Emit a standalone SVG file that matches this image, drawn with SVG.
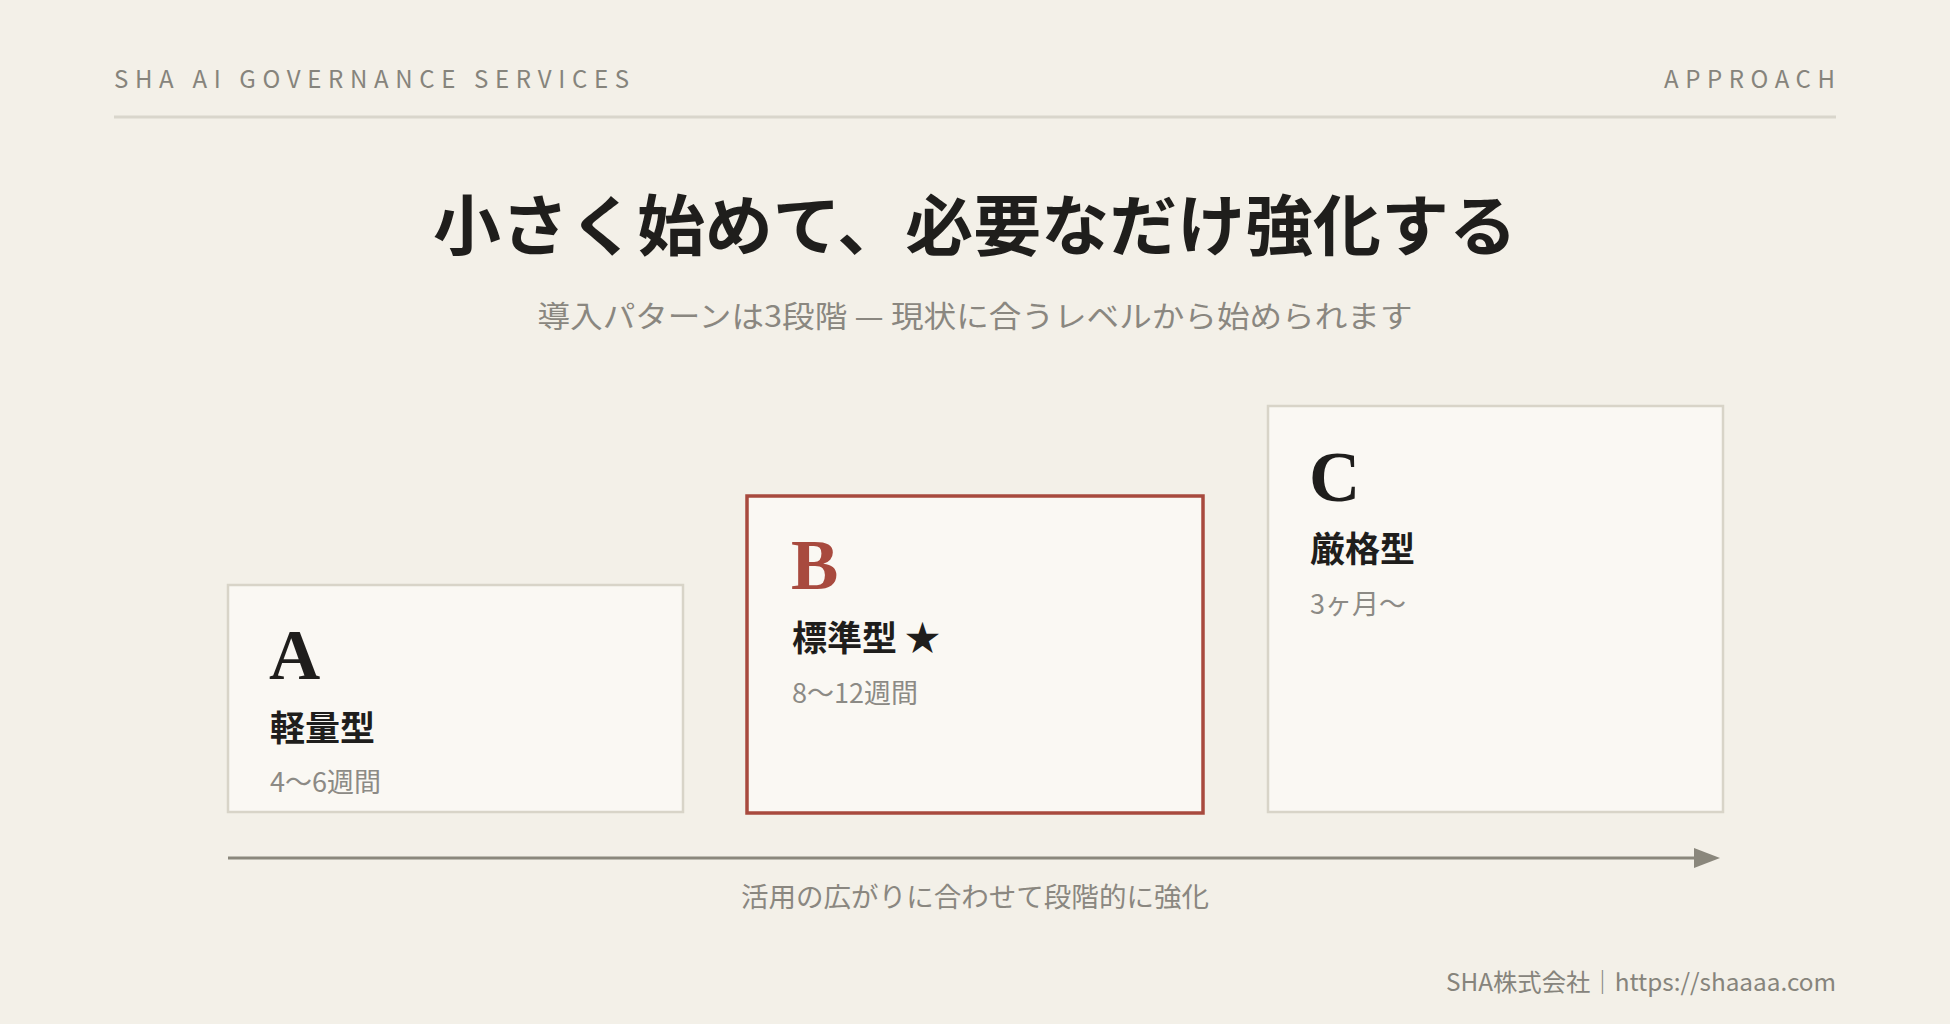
<svg xmlns="http://www.w3.org/2000/svg" width="1950" height="1024" viewBox="0 0 1950 1024">
  <defs>
    <style>
      .hdr { font-family: "Noto Sans CJK JP", "Noto Sans", sans-serif; font-size: 24px; fill: #86847c; }
      .title { font-family: "Noto Sans CJK JP", sans-serif; font-weight: 700; font-size: 66px; fill: #1f1e1c; }
      .sub { font-family: "Noto Sans CJK JP", sans-serif; font-size: 30px; fill: #8a8780; }
      .box { fill: #faf8f3; stroke: #d8d4c8; stroke-width: 2.5; }
      .boxhl { fill: #faf8f3; stroke: #a84a3e; stroke-width: 3.5; }
      .letter { font-family: "Liberation Serif", serif; font-weight: 700; font-size: 71px; fill: #1f1e1c; }
      .label { font-family: "Noto Sans CJK JP", sans-serif; font-weight: 700; font-size: 35px; fill: #1f1e1c; }
      .dur { font-family: "Noto Sans CJK JP", sans-serif; font-size: 27px; fill: #8c8a85; }
      .cap { font-family: "Noto Sans CJK JP", sans-serif; font-size: 27px; fill: #8a8780; }
      .foot { font-family: "Noto Sans CJK JP", "Noto Sans", sans-serif; font-size: 24px; fill: #86847c; }
    </style>
  </defs>
  <rect width="1950" height="1024" fill="#f3f0e8"/>

  <g id="header">
    <text class="hdr" x="114" y="88" textLength="515" lengthAdjust="spacing">SHA AI GOVERNANCE SERVICES</text>
    <text class="hdr" x="1664" y="88" textLength="171" lengthAdjust="spacing">APPROACH</text>
    <line x1="114" y1="117" x2="1836" y2="117" stroke="#d9d6cc" stroke-width="3"/>
  </g>

  <g id="title">
    <text class="title" x="975" y="250" text-anchor="middle" textLength="1084" lengthAdjust="spacingAndGlyphs">小さく始めて、必要なだけ強化する</text>
    <text class="sub" x="975" y="327" text-anchor="middle" textLength="875" lengthAdjust="spacingAndGlyphs">導入パターンは3段階 — 現状に合うレベルから始められます</text>
  </g>

  <g id="node-a">
    <rect class="box" x="228" y="585" width="455" height="227"/>
    <text class="letter" x="269" y="679">A</text>
    <text class="label" x="270" y="741">軽量型</text>
    <text class="dur" x="270" y="792">4〜6週間</text>
  </g>

  <g id="node-b">
    <rect class="boxhl" x="747" y="496" width="456" height="317"/>
    <text class="letter" x="791" y="589" style="fill:#a84a3e">B</text>
    <text class="label" x="792" y="651">標準型 ★</text>
    <text class="dur" x="792" y="703">8〜12週間</text>
  </g>

  <g id="node-c">
    <rect class="box" x="1268" y="406" width="455" height="406"/>
    <text class="letter" x="1309" y="501">C</text>
    <text class="label" x="1310" y="562">厳格型</text>
    <text class="dur" x="1310" y="614">3ヶ月〜</text>
  </g>

  <g id="connectors">
    <line x1="228" y1="858" x2="1696" y2="858" stroke="#8a877c" stroke-width="3"/>
    <path d="M1694,848 L1720,858 L1694,868 Z" fill="#8a877c"/>
    <text class="cap" x="975" y="907" text-anchor="middle" textLength="468" lengthAdjust="spacingAndGlyphs">活用の広がりに合わせて段階的に強化</text>
  </g>

  <g id="footer">
    <text class="foot" x="1836" y="991" text-anchor="end" textLength="390" lengthAdjust="spacingAndGlyphs">SHA株式会社｜https://shaaaa.com</text>
  </g>
</svg>
